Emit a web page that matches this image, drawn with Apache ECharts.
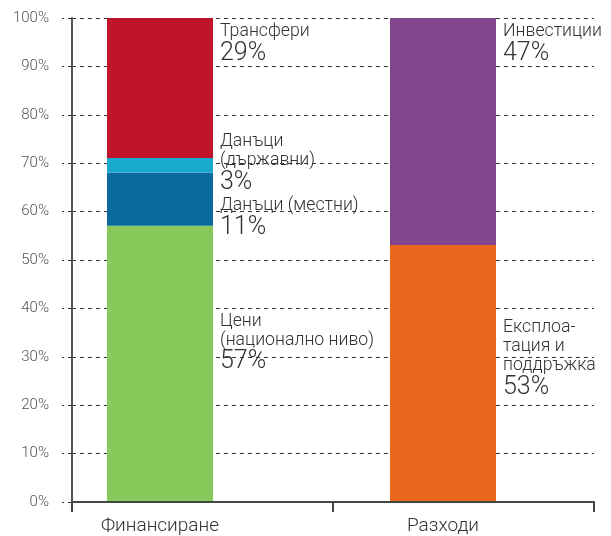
<!DOCTYPE html>
<html>
<head>
<meta charset="utf-8">
<script src="https://cdn.jsdelivr.net/npm/echarts@6/dist/echarts.min.js"></script>
<style>
  * { margin: 0; padding: 0; }
  body { background: #fff; }
</style>
</head>
<body>
<div id="main" style="width: 611px; height: 536px;"></div>
<script>
  // categories and stacked shares (%)
  var categories = ['Финансиране', 'Разходи']
  var seriesNames = ['Цени\n(национално ниво)', 'Данъци (местни)', 'Данъци\n(държавни)', 'Трансфери', 'Експлоа-\nтация и\nподдръжка', 'Инвестиции']
  var financing = [57, 11, 3, 29]   // Финансиране
  var spending = [53, 47]           // Разходи
  var colors = ['#88C95C', '#0A6A9C', '#19A9CE', '#C1132A', '#E8681E', '#82468E']
  var labelShift = [86, 24, -26, 4, 73, 4]   // label offset from segment top
  var yTicks = [0, 100, 10]

  var font = 'Roboto, "Noto Sans", sans-serif'

  function labelText (name, v) {
    return name.split('\n').map(function (s) { return '{n|' + s + '}' }).join('\n') + '\n{p|' + v + '%}'
  }

  var series = []
  seriesNames.forEach(function (name, i) {
    var data = i < financing.length ? [financing[i], '-'] : ['-', spending[i - financing.length]]
    series.push({
      name: name,
      type: 'bar',
      stack: 'total',
      xAxisIndex: 1,
      yAxisIndex: 1,
      barWidth: 106,
      itemStyle: { color: colors[i] },
      label: {
        show: true,
        position: ['100%', 0],
        offset: [7, labelShift[i]],
        align: 'left',
        verticalAlign: 'top',
        formatter: function (p) { return labelText(name, p.value) },
        rich: {
          n: { fontFamily: font, fontWeight: 300, fontSize: 17.7, lineHeight: 19, color: '#333' },
          p: { fontFamily: font, fontWeight: 300, fontSize: 25, lineHeight: 25, color: '#333' }
        }
      },
      data: data
    })
  })

  var chart = echarts.init(document.getElementById('main'))
  chart.setOption({
    animation: false,
    grid: [
      { left: 72, right: 17, top: 18, bottom: 34 },
      { left: 18.5, right: 26.5, top: 18, bottom: 34 }
    ],
    xAxis: [
      {
        type: 'category',
        gridIndex: 0,
        data: ['', ''],
        axisLine: { show: true, lineStyle: { color: '#444', width: 2 } },
        axisTick: { show: true, interval: 0, length: 10, lineStyle: { color: '#444', width: 2 } },
        axisLabel: { show: false }
      },
      {
        type: 'category',
        gridIndex: 1,
        data: categories,
        axisLine: { show: false },
        axisTick: { show: false },
        axisLabel: { fontFamily: font, fontWeight: 300, fontSize: 19, color: '#333', margin: 16 }
      }
    ],
    yAxis: [
      {
        type: 'value',
        gridIndex: 0,
        min: yTicks[0],
        max: yTicks[1],
        interval: yTicks[2],
        axisLine: { show: true, lineStyle: { color: '#555', width: 2 } },
        axisTick: { show: true, length: 10, lineStyle: { color: '#333', type: [4, 4] } },
        axisLabel: { fontFamily: font, fontWeight: 300, fontSize: 15, color: '#555', margin: 23, formatter: '{value}%' },
        splitLine: { lineStyle: { color: '#333', type: [4, 4] } }
      },
      {
        type: 'value',
        gridIndex: 1,
        min: yTicks[0],
        max: yTicks[1],
        show: false
      }
    ],
    series: series
  })
</script>
</body>
</html>
